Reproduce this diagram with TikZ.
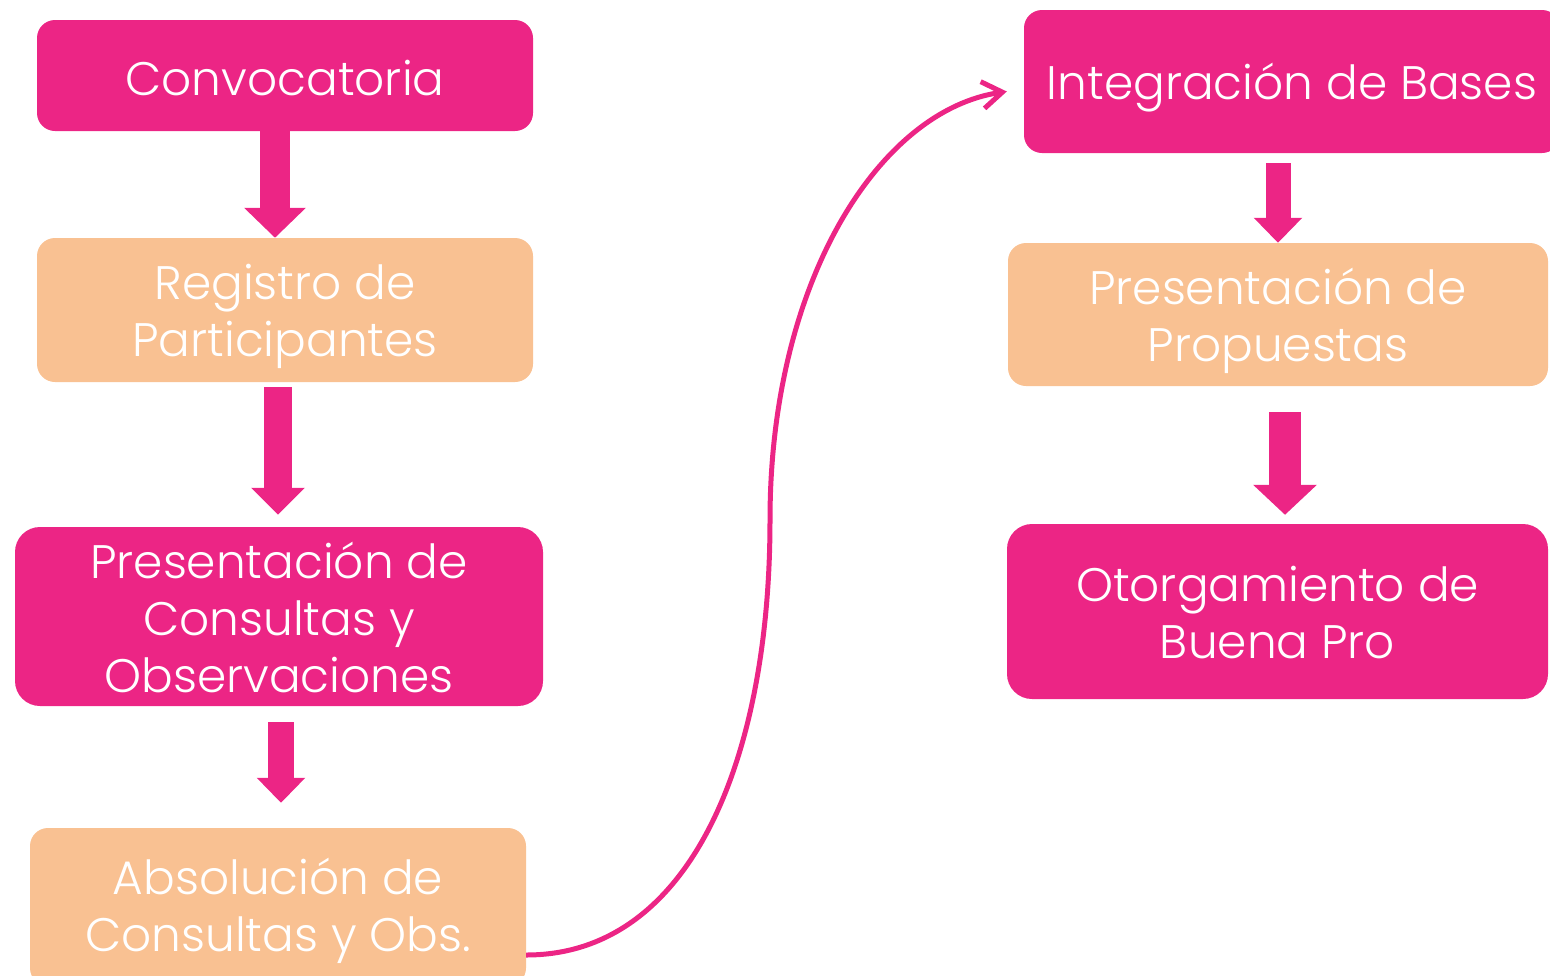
\documentclass[tikz,border=0pt]{standalone}
\usepackage{fontspec}
\IfFontExistsTF{Poppins Light}{\setmainfont{Poppins Light}}{\setmainfont{Poppins}}
\usetikzlibrary{arrows.meta}
\definecolor{mag}{HTML}{EC2585}
\definecolor{peach}{HTML}{F9C192}
\newcommand\dl[2][13pt]{\raisebox{0pt}[\dimexpr\height+#1\relax]{#2}}
\begin{document}
\begin{tikzpicture}[x=1pt,y=-1pt,
  box/.style={rounded corners=18pt, text=white, align=center, inner sep=0pt,
    font=\fontsize{47}{57}\selectfont},
  magbox/.style={box, fill=mag},
  peachbox/.style={box, fill=peach},
  blockarrow/.style n args={3}{draw=mag, line width=#1pt,
    -{Triangle[width=#2pt,length=#3pt]}},
  curve/.style={draw=mag, line width=5pt, -{Straight Barb[length=20pt,width=27pt]}}]
\clip (0,0) rectangle (1550,975);
\useasboundingbox (0,0) rectangle (1550,975);
\node[magbox, minimum width=496pt, minimum height=111pt] (conv) at (285,75.5) {\dl[6pt]{Convocatoria}};
\node[peachbox, minimum width=496pt, minimum height=144pt] (reg) at (285,310) {\dl{Registro de}\\Participantes};
\node[magbox, rounded corners=25pt, minimum width=528pt, minimum height=179pt] (pcons) at (279,616.5) {\dl[1pt]{Presentación de}\\Consultas y\\Observaciones};
\node[peachbox, minimum width=496pt, minimum height=158pt] (abs) at (278,907) {\dl[8pt]{Absolución de}\\Consultas y Obs.};
\node[magbox, minimum width=536pt, minimum height=143pt] (intg) at (1292,81.5) {\dl{Integración de Bases}};
\node[peachbox, minimum width=540pt, minimum height=143pt] (prop) at (1278,314.5) {\dl{Presentación de}\\Propuestas};
\node[magbox, rounded corners=25pt, minimum width=541pt, minimum height=175pt] (otor) at (1277.5,611.5) {\dl[3pt]{Otorgamiento de}\\Buena Pro};
% block arrows
\draw[blockarrow={30}{60}{30}] ([xshift=-10pt]conv.south) -- ([xshift=-10pt]reg.north);
\draw[blockarrow={28}{52}{27}] ([xshift=-7pt,yshift=-5pt]reg.south) -- ([xshift=-1pt,yshift=12pt]pcons.north);
\draw[blockarrow={26}{47}{25}] ([xshift=2pt,yshift=-16pt]pcons.south) -- ([xshift=3pt,yshift=25pt]abs.north);
\draw[blockarrow={25}{47}{25}] ([xshift=-14pt,yshift=-10pt]intg.south) -- (prop.north);
\draw[blockarrow={32}{62}{30}] ([xshift=7pt,yshift=-26pt]prop.south) -- ([xshift=7.5pt,yshift=9pt]otor.north);
% curved connector
\coordinate (c1) at ([yshift=-48pt]abs.east);
\coordinate (c2) at ([xshift=-17pt,yshift=-10pt]intg.west);
\draw[curve] (c1) .. controls (690,955) and (770,760) .. (770,520)
  .. controls (770,280) and (880,110) .. (c2);
\end{tikzpicture}
\end{document}
